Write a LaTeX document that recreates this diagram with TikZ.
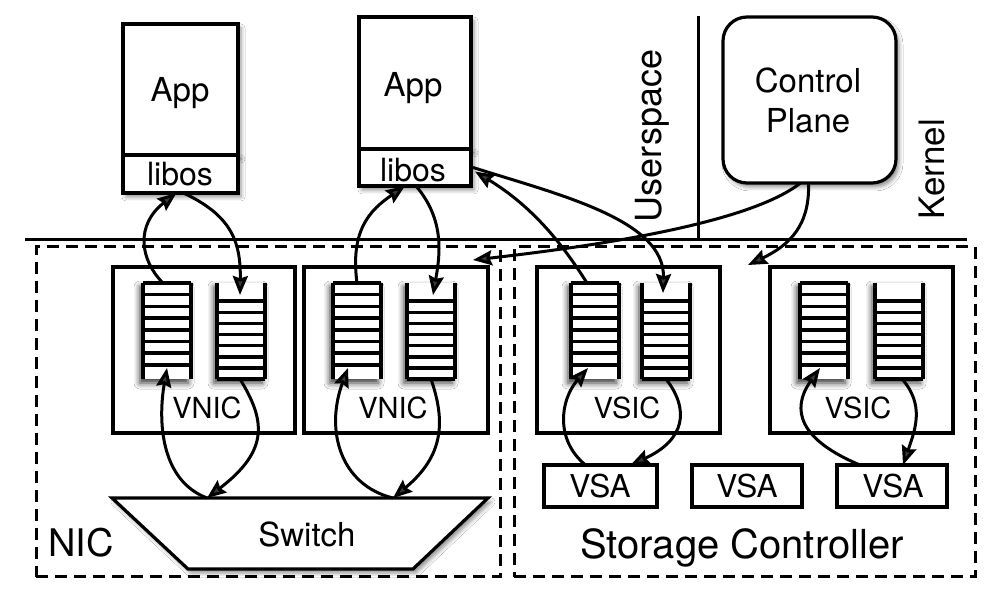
\documentclass[tikz,border=0pt]{standalone}
\usepackage{fontspec}
\setmainfont{TeX Gyre Heros}
\usetikzlibrary{arrows.meta,calc,shadows.blur}
\newcommand{\FSz}[1]{\fontsize{#1}{#1}\selectfont}
\tikzset{
  box/.style={draw, line width=3.2pt, fill=white, inner sep=0pt, outer sep=0pt},
  dbox/.style={draw, line width=3pt, dash pattern=on 12pt off 7pt, inner sep=0pt, outer sep=0pt},
  arr/.style={line width=3pt, -{Stealth[length=19pt,width=15pt,inset=2.5pt]}},
  plain/.style={line width=3pt},
  qnode/.style={minimum width=48pt, minimum height=96pt, inner sep=0pt, outer sep=0pt, fill=white,
     blur shadow={shadow xshift=-3pt, shadow yshift=-4pt, shadow blur radius=6pt, shadow opacity=80}},
  qbar/.style={line width=4.5pt},
  qslot/.style={line width=3.6pt},
  soft/.style={blur shadow={shadow xshift=3pt, shadow yshift=-4pt, shadow blur radius=4pt, shadow opacity=45}},
  txt/.style={inner sep=0pt, anchor=base},
}
\newcommand{\QTop}[2]{%
  \node[qnode] (#1) at (#2,331) {};
  \foreach \k in {0,...,7}{\draw[qslot] ($(#1.north west)+(0,\k*11.7)$) -- ($(#1.north east)+(0,\k*11.7)$);}
  \draw[qbar] (#1.north west) -- (#1.south west) (#1.north east) -- (#1.south east);
}
\newcommand{\QBot}[2]{%
  \node[qnode] (#1) at (#2,331) {};
  \foreach \k in {0,...,7}{\draw[qslot] ($(#1.south west)+(0,-\k*11.1)$) -- ($(#1.south east)+(0,-\k*11.1)$);}
  \draw[qbar] (#1.north west) -- (#1.south west) (#1.north east) -- (#1.south east);
}
\begin{document}
\begin{tikzpicture}[x=1pt,y=-1pt]
\useasboundingbox[fill=white] (0,0) rectangle (1005,593);

% separators
\draw[plain] (25,240) -- (967,240);
\draw[plain] (698,16) -- (698,240);
\node[rotate=90, inner sep=0pt, font=\FSz{36}] (us) at (652,136) {Userspace};
\node[rotate=90, inner sep=0pt, font=\FSz{35}] (kn) at (932,169) {Kernel};

% dashed regions
\node[dbox, minimum width=464pt, minimum height=330pt] (nic) at (268,412) {};
\node[dbox, minimum width=461pt, minimum height=330pt] (sc) at (744.5,412) {};
\node[txt, anchor=base west, font=\FSz{38}] (tnic) at (48,557) {NIC};
\node[txt, font=\FSz{40}] (tsc) at (742,559) {Storage Controller};

% apps
\node[box, soft, minimum width=115pt, minimum height=131pt] (app1) at (180.5,89.5) {};
\node[box, soft, minimum width=115pt, minimum height=38pt] (lib1) at (180.5,174) {};
\node[txt, font=\FSz{33}] (tapp1) at (180,102) {App};
\node[txt, font=\FSz{32}] (tlib1) at (180,186) {libos};
\node[box, soft, minimum width=112pt, minimum height=132pt] (app2) at (415,83) {};
\node[box, soft, minimum width=112pt, minimum height=37pt] (lib2) at (415,167.5) {};
\node[txt, font=\FSz{33}] (tapp2) at (413,97) {App};
\node[txt, font=\FSz{32}] (tlib2) at (413,182) {libos};

% control plane
\node[box, soft, rounded corners=24pt, minimum width=173pt, minimum height=166pt] (cp) at (809.5,100) {};
\node[txt, font=\FSz{33}] (tcp1) at (808,93) {Control};
\node[txt, font=\FSz{33}] (tcp2) at (808,133) {Plane};

% VNIC / VSIC boxes
\node[box, minimum width=182pt, minimum height=166pt] (vnic1) at (204,350) {};
\node[box, minimum width=184pt, minimum height=166pt] (vnic2) at (396,350) {};
\node[box, minimum width=183pt, minimum height=166pt] (vsic1) at (628.5,350) {};
\node[box, minimum width=183pt, minimum height=166pt] (vsic2) at (861.5,350) {};
\node[txt, font=\FSz{29}] (tvn1) at (207,419) {VNIC};
\node[txt, font=\FSz{29}] (tvn2) at (393,419) {VNIC};
\node[txt, font=\FSz{29}] (tvs1) at (627,419) {VSIC};
\node[txt, font=\FSz{29}] (tvs2) at (858,419) {VSIC};

% queues
\QTop{q1L}{167}
\QBot{q1R}{241}
\QTop{q2L}{357}
\QBot{q2R}{431}
\QTop{q3L}{595}
\QBot{q3R}{666}
\QTop{q4L}{824}
\QBot{q4R}{899}

% VSA boxes
\node[box, minimum width=113pt, minimum height=42pt] (vsa1) at (600.5,486) {};
\node[box, minimum width=110pt, minimum height=42pt] (vsa2) at (747,486) {};
\node[box, minimum width=110pt, minimum height=42pt] (vsa3) at (892,486) {};
\node[txt, font=\FSz{31.5}] (tvsa1) at (600,498) {VSA};
\node[txt, font=\FSz{31.5}] (tvsa2) at (747,498) {VSA};
\node[txt, font=\FSz{31.5}] (tvsa3) at (893,498) {VSA};

% switch
\coordinate (swa) at (112,498);
\coordinate (swb) at (488,498);
\coordinate (swc) at (413,569);
\coordinate (swd) at (188,569);
\draw[box, soft] (swa) -- (swb) -- (swc) -- (swd) -- cycle;
\node[txt, font=\FSz{33}] (tsw) at (307,547) {Switch};
\coordinate (sw1) at (207,498);
\coordinate (sw2) at (393,498);

% NIC arrows
\draw[arr] ($(q1L.north)+(-4,0)$) .. controls (140,260) and (135,225) .. ($(lib1.south)+(-4,0)$);
\draw[arr] ($(lib1.south)+(3,0)$) .. controls (230,215) and (241,240) .. ($(q1R.north)+(-1,12)$);
\draw[arr] (sw1) .. controls (160,480) and (158,420) .. ($(q1L.south)+(0,-11)$);
\draw[arr] ($(q1R.south)+(-1,0)$) .. controls (265,420) and (270,450) .. (sw1);
\draw[arr] (q2L.north) .. controls (350,230) and (370,210) .. ($(lib2.south)+(-10,0)$);
\draw[arr] ($(lib2.south)+(1,0)$) .. controls (445,220) and (440,255) .. ($(q2R.north)+(2,12)$);
\draw[arr] (sw2) .. controls (340,485) and (325,430) .. ($(q2L.south)+(-9,-11)$);
\draw[arr] (q2R.south) .. controls (445,420) and (445,455) .. (sw2);

% Storage arrows
\draw[arr] ($(q3L.north)+(-8,0)$) .. controls (560,240) and (530,205) .. ($(lib2.east)+(4,4)$);
\draw[arr] ($(lib2.east)+(2,0)$) .. controls (560,195) and (665,220) .. ($(q3R.north)+(-3,10)$);
\draw[arr] ($(vsa1.north)+(-15,0)$) .. controls (555,440) and (560,400) .. ($(q3L.south)+(-7,-11)$);
\draw[arr] (q3R.south) .. controls (690,410) and (685,440) .. ($(vsa1.north)+(30,0)$);
\draw[arr] ($(vsa3.north)+(-32,0)$) .. controls (800,440) and (790,410) .. ($(q4L.south)+(-4,-11)$);
\draw[arr] ($(q4R.south)+(3,0)$) .. controls (925,405) and (915,430) .. ($(vsa3.north)+(11,0)$);

% control plane arrows
\coordinate (cpt) at (748,265);
\draw[arr] ($(cp.south)+(-1,0)$) .. controls (810,225) and (790,245) .. (cpt);
\draw[arr] ($(cp.south)+(-9,0)$) .. controls (760,215) and (650,240) .. ($(vnic2.north east)+(-15,-7)$);
\end{tikzpicture}
\end{document}
